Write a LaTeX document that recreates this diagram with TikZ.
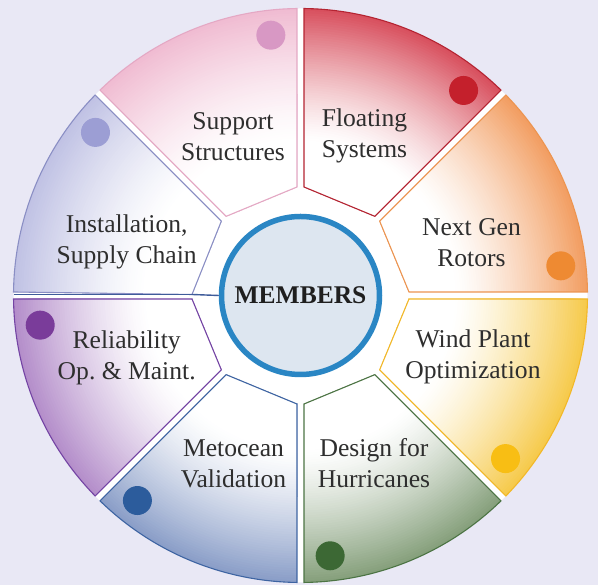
\documentclass[tikz,border=0pt]{standalone}
\usepackage{fontspec}
\setmainfont{Liberation Serif}
\usetikzlibrary{calc}
\frenchspacing

% page and hub colours
\definecolor{pagebg}{HTML}{E9E8F5}
\definecolor{hubfill}{HTML}{DDE6F0}
\definecolor{hubring}{HTML}{2A86C4}
\definecolor{labelgray}{HTML}{2E2E2E}
\definecolor{linkline}{HTML}{3F5C9A}

% per-wedge colours: rim shade, outline, dot
\definecolor{rimsup}{HTML}{F0BCD2}\definecolor{edgesup}{HTML}{E4A8C4}\definecolor{dotsup}{HTML}{D898C4}
\definecolor{rimflo}{HTML}{D8505E}\definecolor{edgeflo}{HTML}{B42432}\definecolor{dotflo}{HTML}{C4202C}
\definecolor{rimnxt}{HTML}{F29E62}\definecolor{edgenxt}{HTML}{EC9450}\definecolor{dotnxt}{HTML}{EE8A32}
\definecolor{rimwnd}{HTML}{F6CA4C}\definecolor{edgewnd}{HTML}{F2B828}\definecolor{dotwnd}{HTML}{F8BE14}
\definecolor{rimdsg}{HTML}{86A07C}\definecolor{edgedsg}{HTML}{4C7444}\definecolor{dotdsg}{HTML}{3C6834}
\definecolor{rimmet}{HTML}{8A9EC8}\definecolor{edgemet}{HTML}{3E64A2}\definecolor{dotmet}{HTML}{2C5C9C}
\definecolor{rimrel}{HTML}{B48ECA}\definecolor{edgerel}{HTML}{7444A4}\definecolor{dotrel}{HTML}{7A3C9A}
\definecolor{rimins}{HTML}{C0C2E4}\definecolor{edgeins}{HTML}{8A8EC4}\definecolor{dotins}{HTML}{9C9ED4}

% wedge outline: #1 start angle, #2 end angle, #3 half gap on the end side
\newcommand\wedgepath[3]{%
  ($(C)+(#1:108.5)+(#1+90:3.5)$) -- ($(C)+(#1+0.7:287)$)
  arc[start angle=#1+0.7, end angle=#2-0.7, radius=287]
  -- ($(C)+(#2:108.5)+(#2-90:#3)$) -- cycle}

\tikzset{
  topic/.style={font=\fontsize{25.6}{31}\selectfont, text=labelgray, align=center, inner sep=0pt},
}

\begin{document}
\begin{tikzpicture}[x=1pt,y=1pt]
  \useasboundingbox (0,0) rectangle (598,585);
  \fill[pagebg] (0,0) rectangle (598,585);
  \coordinate (C) at (300.5,289.5);
  \fill[white] (C) circle (287);

  \foreach \a/\nm/\g in {90/sup/3.5, 45/flo/3.5, 0/nxt/3.5, -45/wnd/3.5,
                         -90/dsg/3.5, -135/met/3.5, 180/rel/3.5, 135/ins/1} {
    \pgfmathsetmacro\b{\a+45}
    \begin{scope}
      \clip \wedgepath{\a}{\b}{\g};
      % colour rings fading from the rim towards the white core
      \foreach \k in {0,...,55} {
        \pgfmathsetmacro\rr{287-\k*2.4}
        \pgfmathsetmacro\pp{100*(1-\k/55)^1.3}
        \fill[rim\nm!\pp!white] (C) circle (\rr);
      }
    \end{scope}
    \draw[draw=edge\nm, line width=1.1] \wedgepath{\a}{\b}{\g};
    \fill[dot\nm] ($(C)+(\a+6.5:262)$) circle (14.5);
  }

  % link from the installation wedge to the hub
  \coordinate (insfoot) at ($(C)+(180:108.5)+(90:1)$);
  \draw[linkline, line width=1.4] ($(C)+(180:287)+(90:1)$) -- (insfoot);
  \node[circle, draw=hubring, line width=5.5, fill=hubfill, minimum size=158, inner sep=0pt,
        font=\fontsize{25.5}{30}\selectfont\bfseries, text=black!88] (hub) at (C) {\raisebox{-1pt}{MEMBERS}};
  \draw[linkline, line width=1.4] (insfoot) -- (hub.west);

  \node[topic] (support) at (233,448.3) {Support\\Structures};
  \node[topic] (floating) at (364.5,449) {Floating\\Systems};
  \node[topic] (nextgen) at (471.5,342) {Next Gen\\Rotors};
  \node[topic] (windplant) at (473,228.3) {Wind Plant\\Optimization};
  \node[topic] (design) at (374,121.8) {Design for\\Hurricanes};
  \node[topic] (metocean) at (233.5,121) {Metocean\\Validation};
  \node[topic] (reliability) at (126.7,227.5) {Reliability\\Op. \& Maint.};
  \node[topic] (install) at (126.7,342.7) {Installation,\\Supply Chain};
\end{tikzpicture}
\end{document}
